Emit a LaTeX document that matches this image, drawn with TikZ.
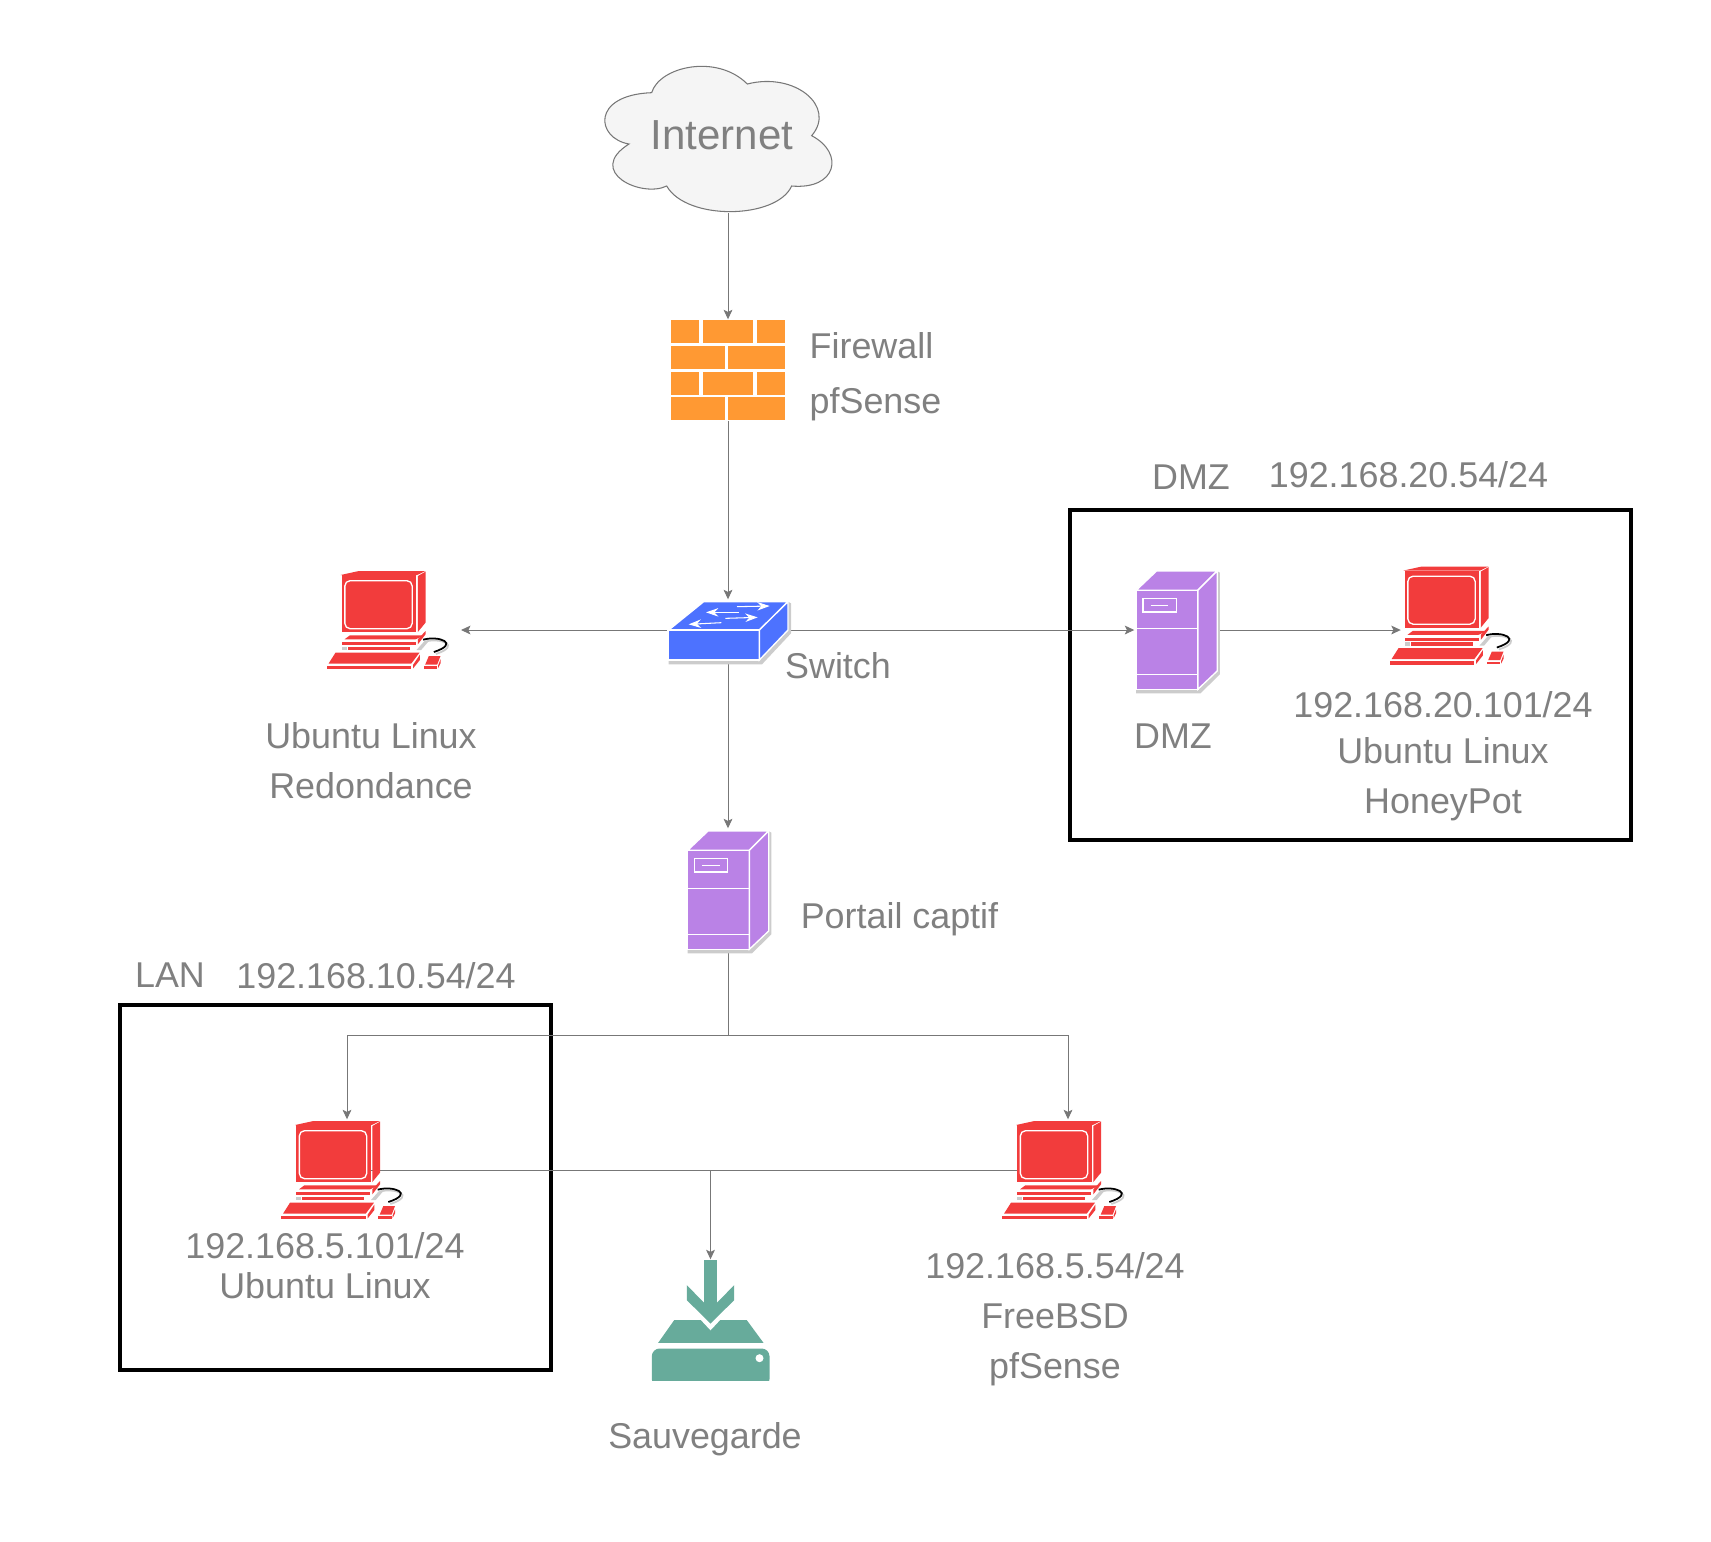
\documentclass[tikz,border=0pt]{standalone}
\usepackage{fontspec}
\setmainfont{Liberation Sans}
\usetikzlibrary{arrows.meta}
\definecolor{txtgray}{HTML}{808080}
\definecolor{linegray}{HTML}{777777}
\definecolor{shadegray}{HTML}{CCCCCC}
\definecolor{pcred}{HTML}{F23C3C}
\definecolor{wallorange}{HTML}{FF9933}
\definecolor{swblue}{HTML}{4D72FF}
\definecolor{srvpurple}{HTML}{BA82E6}
\definecolor{bakteal}{HTML}{67AB9B}
\tikzset{>={Stealth[length=2.7pt,width=2.5pt,inset=.6pt]}}
\tikzset{
    lbl/.style={text=txtgray, inner sep=0pt, align=center, font=\fontsize{10.2pt}{14.2pt}\selectfont},
    iconbox/.style={inner sep=0pt, minimum width=#1},
    link/.style={draw=linegray, line width=.28pt},
    frame/.style={draw=black, line width=1.1pt, inner sep=0pt},
    part/.style={draw=white, line width=.38pt},
    computer/.pic={
        \begin{scope}[scale=1/3, shift={(-276, -242)}]
            \fill[pcred](120, 107)--(175, 95)--(375, 95)--(350, 107)--cycle;
            \fill[pcred](123, 108)rectangle(347, 278);
            \fill[pcred](352, 110)--(375, 97)--(375, 250)--(352, 278)--cycle;
            \draw[part, rounded corners=1.5pt](133, 124)rectangle(335, 268);
            \fill[pcred](148, 288)--(372, 288)--(345, 300)--(132, 300)--cycle;
            \fill[pcred](123, 308)rectangle(345, 318);
            \fill[shadegray](123, 322)rectangle(138, 332);
            \fill[pcred](142, 322)rectangle(328, 332);
            \fill[pcred](352, 300)--(375, 275)--(375, 285)--(352, 315)--cycle;
            \fill[shadegray](348, 332)--(372, 305)--(385, 305)--(362, 332)--cycle;
            \fill[pcred](105, 340)--(357, 340)--(332, 373)--(84, 373)--cycle;
            \fill[pcred](78, 379)rectangle(332, 389);
            \fill[pcred](338, 376)--(358, 346)--(358, 362)--(338, 387)--cycle;
            \fill[pcred](385, 350)--(420, 350)--(410, 376)--(374, 376)--cycle;
            \fill[pcred](370, 380)rectangle(410, 388);
            \fill[pcred](413, 378)--(420, 360)--(420, 372)--(413, 386)--cycle;
            \draw[shadegray, line width=.5pt](372, 307)..controls(420, 294)and(485, 318)..(406, 344);
            \draw[black, line width=.5pt](368, 301)..controls(415, 288)and(480, 312)..(400, 338);
        \end{scope}
    },
    server/.pic={
        \begin{scope}[scale=1/3, shift={(-263, -932)}]
            \fill[shadegray](142, 1110)--(142, 1122)--(335, 1122)--(393, 1065)--(393, 760)--(385, 755)--cycle;
            \fill[srvpurple, part](142, 813)--(203, 755)--(385, 755)--(327, 813)--cycle;
            \fill[srvpurple, part](142, 813)rectangle(327, 1110);
            \fill[srvpurple, part](327, 813)--(385, 755)--(385, 1055)--(327, 1110)--cycle;
            \draw[part](142, 928)--(327, 928);
            \draw[part](142, 1065)--(327, 1065);
            \draw[part](162, 838)rectangle(262, 878);
            \draw[part](185, 858)--(238, 858);
        \end{scope}
    },
    switchbox/.pic={
        \begin{scope}[scale=1/3, shift={(-263, -150)}]
            \fill[shadegray](85, 240)--(85, 253)--(365, 253)--(452, 160)--(452, 70)--(443, 65)--cycle;
            \fill[swblue, part](85, 150)--(190, 65)--(443, 65)--(357, 150)--cycle;
            \fill[swblue, part](85, 150)rectangle(357, 240);
            \fill[swblue, part](357, 150)--(443, 65)--(443, 150)--(357, 240)--cycle;
            \draw[white, line width=.3pt, -{Stealth[length=3.5pt, width=2.4pt]}](290, 80)--(388, 78);
            \draw[white, line width=.3pt, -{Stealth[length=3.5pt, width=2.4pt]}](295, 97)--(197, 97);
            \draw[white, line width=.3pt, -{Stealth[length=3.5pt, width=2.4pt]}](255, 115)--(352, 112);
            \draw[white, line width=.3pt, -{Stealth[length=3.5pt, width=2.4pt]}](243, 128)--(145, 133);
        \end{scope}
    },
    brickwall/.pic={
        \begin{scope}[scale=1/3, shift={(-444, -990)}]
            \foreach \ya/\yb in {840/910, 995/1065}{
                \fill[wallorange](273, \ya)rectangle(358, \yb);
                \fill[wallorange](369, \ya)rectangle(520, \yb);
                \fill[wallorange](530, \ya)rectangle(614, \yb);
            }
            \foreach \ya/\yb in {918/987, 1072/1140}{
                \fill[wallorange](273, \ya)rectangle(435, \yb);
                \fill[wallorange](444, \ya)rectangle(614, \yb);
            }
        \end{scope}
    },
    backupdisk/.pic={
        \begin{scope}[scale=1/3, shift={(-241, -241)}]
            \fill[bakteal](222, 60)--(260, 60)--(260, 188)--(312, 135)--(312, 180)--(241, 250)--(170, 180)--(170, 135)--(222, 188)--cycle;
            \fill[bakteal](132, 240)--(212, 240)--(241, 271)--(270, 240)--(350, 240)--(400, 308)--(84, 308)--cycle;
            \fill[bakteal, rounded corners=2.2pt](65, 440)--(65, 325)--(418, 325)--(418, 440)--cycle;
            \fill[white](60, 422)rectangle(425, 445);
            \fill[white](388, 354)circle(12);
        \end{scope}
    },
}

\begin{document}
\begin{tikzpicture}[x=.01cm, y=-.01cm]
    \useasboundingbox(0, 0)rectangle(1711, 1541);
    % zones
    \node[frame, minimum height=3.3cm, minimum width=5.605cm](zonedmz)at(1350.5, 675){};
    \node[frame, minimum width=4.3cm, minimum height=3.655cm](zonelan)at(335.5, 1187.5){};
    % cloud
    \begin{scope}[shift={(580, 40)}, scale=1/3]
        \draw[draw=linegray, fill=black!4, line width=.3pt](215, 158)
            ..controls(238, 80)and(410, 40)..(502, 132)
            ..controls(645, 95)and(770, 200)..(695, 287)
            ..controls(795, 340)and(770, 450)..(635, 438)
            ..controls(590, 538)and(320, 543)..(260, 438)
            ..controls(185, 475)and(15, 395)..(147, 312)
            ..controls(48, 295)and(32, 165)..(215, 158)--cycle;
    \end{scope}
    % equipment
    \node[lbl, font=\fontsize{11.95pt}{14pt}\selectfont, minimum height=1.54cm, minimum width=2.29cm](internet)at(722, 135.5){Internet};
    \node[iconbox=1.14cm, minimum height=1cm](wall)at(728, 370){};
    \node[iconbox=1.2cm, minimum height=.6cm](sw)at(728, 630){};
    \node[iconbox=1.04cm, minimum height=1cm](pcback)at(392.5, 620){};
    \node[iconbox=.83cm, minimum height=1.18cm](dmz)at(1176.5, 630){};
    \node[iconbox=1.08cm, minimum height=1cm](pchoney)at(1455.5, 615.5){};
    \node[iconbox=.83cm, minimum height=1.22cm](portal)at(728, 890){};
    \node[iconbox=1.04cm, minimum height=1cm](pclan)at(347, 1170){};
    \node[iconbox=1.04cm, minimum height=1cm](pcbsd)at(1068, 1170){};
    \node[iconbox=1.18cm, minimum height=1.21cm](backup)at(710.5, 1320.5){};
    \coordinate(fork)at(728, 1035);
    \coordinate(tap)at(backup.north|-pclan.center);
    % connectors
    \draw[link, ->](internet.south-|wall.north)--(wall.north);
    \draw[link, ->](wall.south)--(sw.north);
    \draw[link, ->](sw.west)--(461, 630);
    \draw[link, ->](sw.east)--(dmz.west);
    \draw[link, ->](dmz.east)--(dmz.east-|pchoney.west);
    \draw[link, ->](sw.south)--(portal.north);
    \draw[link](portal.south)--(fork);
    \draw[link, ->](fork)-|(pclan.north);
    \draw[link, ->](fork)-|(pcbsd.north);
    \draw[link](pclan.center)--(pcbsd.center);
    \draw[link, ->](tap)--(backup.north);
    % icons
    \pic at(wall){brickwall};
    \pic at(sw){switchbox};
    \pic at(pcback){computer};
    \pic at(dmz){server};
    \pic at(pchoney){computer};
    \pic at(portal){server};
    \pic at(pclan){computer};
    \pic at(pcbsd){computer};
    \pic at(backup){backupdisk};
    % labels
    \node[lbl, align=left, anchor=west](wallname)at(809, 376.5){Firewall\\[1.6pt]pfSense};
    \node[lbl](swname)at(838, 666){Switch};
    \node[lbl](portalname)at(899.5, 919.5){Portail captif};
    \node[lbl](backname)at(371, 760.5){Ubuntu Linux\\Redondance};
    \node[lbl](dmzname)at(1173, 736.5){DMZ};
    \node[lbl](honeyname)at(1443, 756.5){192.168.20.101/24\\[-1.2pt]Ubuntu Linux\\HoneyPot};
    \node[lbl](dmzhead)at(1191, 477){DMZ};
    \node[lbl](dmzaddr)at(1408.5, 475){192.168.20.54/24};
    \node[lbl](lanhead)at(170, 975.5){LAN};
    \node[lbl](lanaddr)at(376, 975.5){192.168.10.54/24};
    \node[lbl](lanname)at(325, 1265.5){192.168.5.101/24\\[-2.8pt]Ubuntu Linux};
    \node[lbl](bsdname)at(1055, 1319){192.168.5.54/24\\FreeBSD\\pfSense};
    \node[lbl](bakname)at(705, 1439){Sauvegarde};
\end{tikzpicture}
\end{document}
